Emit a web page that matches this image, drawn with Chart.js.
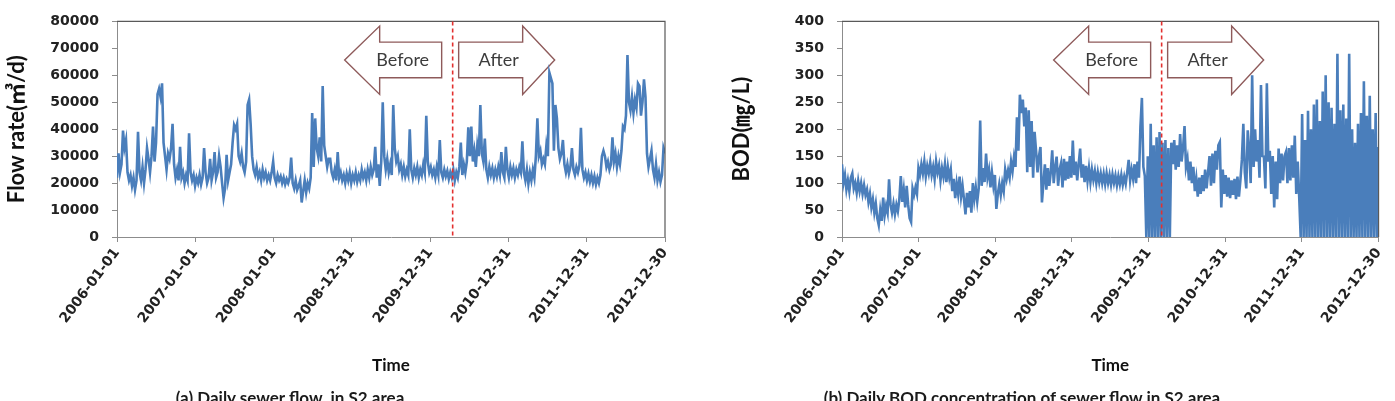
<!DOCTYPE html>
<html>
<head>
<meta charset="utf-8">
<script src="https://cdn.jsdelivr.net/npm/chart.js@4.4.0/dist/chart.umd.min.js"></script>
<style>
    html, body { margin: 0; padding: 0; background: #fff; overflow: hidden; }
    body { width: 1395px; height: 401px; position: relative; }
    canvas { position: absolute; top: 0; }
    #grafica-flujo { left: 0; }
    #grafica-bod { left: 700px; }
    .caption {
        position: absolute; top: 387px; line-height: 1;
        font: bold 17px Lato, sans-serif; color: #1a1a1a;
        white-space: pre; text-align: center;
    }
</style>
</head>
<body>
<canvas id="grafica-flujo" width="700" height="401"></canvas>
<canvas id="grafica-bod" width="695" height="401"></canvas>
<div class="caption" style="left:0;width:580px;">(a) Daily sewer flow  in S2 area</div>
<div class="caption" style="left:700px;width:644px;">(b) Daily BOD concentration of sewer flow in S2 area</div>
<script>
// eje X: dias desde 2006-01-01, una lectura por semana
const sampleStep = 7;
const tickDays = [0, 365, 730, 1095, 1460, 1825, 2190, 2555];
const tickLabels = ['2006-01-01', '2007-01-01', '2008-01-01', '2008-12-31',
    '2009-12-31', '2010-12-31', '2011-12-31', '2012-12-30'];

// dia del cambio (linea roja) en cada grafica
const cutoverDayFlow = 1565;
const cutoverDayBod = 1522;

// (a) caudal diario, m3/d
const flowRate = [
    22000, 31000, 24000, 27000, 39500, 33000, 36000, 24000, 21000, 23000,
    19000, 22000, 17500, 21000, 39000, 24000, 21000, 26000, 20000, 25000,
    33000, 29000, 24000, 30000, 41000, 28000, 35000, 53000, 55000, 52000,
    57000, 35000, 30000, 25000, 31000, 29000, 33000, 42000, 27000, 22000,
    25000, 21000, 33500, 22000, 24000, 20000, 23000, 21000, 38500, 24000,
    21000, 23000, 19000, 22000, 20000, 23000, 19500, 22000, 33000, 24000,
    20000, 22000, 29000, 21000, 24000, 31500, 22000, 24000, 30000, 26000,
    20000, 14500, 18000, 30500, 21000, 24000, 27000, 35000, 41500, 40000,
    42000, 30000, 28000, 31000, 26000, 24000, 28000, 49000, 51000, 42000,
    30000, 25000, 23000, 26000, 22000, 24000, 21000, 25000, 22000, 24000,
    21000, 23000, 21000, 24000, 28000, 22000, 20000, 23000, 21000, 22500,
    20000, 22000, 19500, 21500, 20000, 22000, 29500, 20000, 18000, 21000,
    17500, 19000, 21000, 12800, 17000, 21000, 16500, 20000, 18000, 22000,
    46000, 26000, 44000, 33000, 30000, 37000, 28000, 56000, 34000, 30000,
    26000, 29000, 29000, 24000, 22000, 25000, 21000, 31500, 22000, 24000,
    21000, 23000, 20000, 23500, 21000, 24000, 20000, 23000, 21000, 24000,
    20500, 23000, 21000, 25000, 22000, 24000, 21000, 25000, 22000, 26000,
    23000, 25000, 33500, 22000, 27000, 19000, 28000, 50000, 30000, 25000,
    29000, 24000, 27000, 23000, 49000, 33000, 28000, 30000, 25000, 27000,
    23000, 26000, 22500, 25000, 23000, 40000, 25000, 22000, 25500, 23000,
    26000, 22000, 25000, 23000, 27000, 24000, 45000, 28000, 24000, 26000,
    23000, 25000, 22000, 26000, 23000, 36000, 24000, 22000, 25000, 22500,
    24500, 21500, 24000, 22000, 25000, 21000, 24000, 22000, 26000, 35000,
    23000, 27000, 24000, 28000, 40700, 30000, 41000, 28000, 32000, 26000,
    34000, 30000, 49000, 31000, 28000, 36500, 25000, 22000, 26000, 23000,
    25500, 22000, 25000, 22500, 26000, 23000, 31500, 24000, 22000, 33500,
    25000, 22000, 26000, 23000, 25500, 22000, 25000, 23000, 26000, 24000,
    35500, 24000, 21000, 25000, 19800, 24000, 21000, 25000, 22000, 30000,
    44000, 30000, 32000, 27000, 29000, 27000, 34000, 30000, 61000, 59000,
    57000, 32000, 49000, 44000, 33000, 29000, 31000, 36000, 27000, 24000,
    27000, 23500, 26000, 33000, 25000, 23000, 26000, 24000, 26500, 40500,
    25000, 22000, 24000, 21000, 23500, 20500, 23000, 20000, 22500, 19500,
    22000, 20000, 23000, 30000, 32000, 30000, 26000, 28000, 25000, 27000,
    37000, 28000, 31000, 26000, 30000, 27000, 32000, 41000, 40000, 45000,
    67500, 50000, 47000, 52000, 46000, 51000, 48000, 57000, 56000, 45000,
    50000, 58500, 52000, 31000, 26000, 29000, 32000, 25000, 22000, 27000,
    21000, 24000, 20500, 23000, 33000, 31000
];

// (b) concentracion diaria de BOD, mg/L
const bodLevel = [
    135, 100, 115, 88, 105, 85, 110, 118, 90, 100,
    82, 104, 85, 100, 80, 96, 78, 88, 65, 80,
    55, 70, 45, 62, 35, 22, 50, 30, 73, 40,
    58, 45, 107, 60, 45, 62, 42, 60, 48, 70,
    113, 65, 88, 55, 95, 60, 35, 28, 90, 78,
    92, 80, 128, 115, 135, 118, 140, 112, 132, 118,
    138, 115, 130, 108, 140, 120, 133, 105, 128, 112,
    135, 102, 130, 110, 125, 85, 108, 72, 100, 80,
    112, 75, 95, 70, 42, 82, 55, 85, 45, 100,
    70, 92, 66, 90, 216, 95, 128, 102, 155, 110,
    125, 92, 120, 95, 115, 52, 80, 98, 78, 100,
    85, 125, 108, 124, 110, 140, 122, 148, 130, 222,
    160, 264, 230, 255, 205, 240, 120, 235, 130, 215,
    110, 195, 160, 120, 150, 167, 64, 100, 135, 88,
    128, 95, 120, 161, 100, 130, 149, 95, 125, 137,
    92, 145, 105, 140, 108, 150, 110, 179, 115, 140,
    105, 135, 164, 110, 135, 102, 132, 104, 128, 102,
    125, 106, 122, 100, 120, 102, 118, 100, 117, 98,
    118, 100, 115, 97, 116, 100, 114, 96, 113, 98,
    115, 97, 112, 99, 120, 143, 105, 125, 108, 135,
    100, 140, 110, 204, 258, 130, 113, 0, 150, 0,
    210, 0, 170, 0, 185, 0, 195, 0, 175, 0,
    180, 0, 165, 0, 175, 135, 180, 125, 170, 130,
    191, 140, 165, 206, 130, 145, 105, 140, 100, 130,
    85, 108, 75, 110, 80, 115, 85, 125, 90, 120,
    150, 95, 155, 100, 160, 125, 170, 176, 55, 125,
    80, 115, 75, 110, 72, 105, 78, 108, 70, 112,
    75, 105, 143, 210, 120, 90, 198, 161, 100, 300,
    130, 200, 140, 180, 110, 282, 150, 149, 90, 285,
    140, 160, 80, 150, 55, 140, 70, 164, 100, 155,
    105, 150, 158, 100, 165, 105, 170, 110, 188, 80,
    140, 75, 0, 228, 0, 180, 0, 234, 0, 200,
    0, 246, 0, 255, 0, 215, 0, 270, 0, 300,
    0, 250, 0, 240, 0, 210, 0, 340, 0, 235,
    0, 246, 0, 220, 0, 340, 0, 200, 0, 175,
    0, 210, 0, 230, 0, 289, 0, 225, 0, 262,
    0, 200, 0, 230, 0, 167
];

const lineColor = '#4a7ebb';
const axisColor = '#8c8c8c';
const textColor = '#222222';
const fontTitle = 'Lato, "Noto Sans CJK KR", sans-serif';
const fontTicks = '"DejaVu Sans", sans-serif';

// flechas Before / After y linea roja discontinua
const marcasPeriodo = {
    id: 'marcasPeriodo',
    beforeDatasetsDraw(chart, args, opts) {
        const ctx = chart.ctx;
        const x = chart.scales.x.getPixelForValue(opts.day);
        const t = chart.chartArea.top;
        ctx.save();
        ctx.fillStyle = '#ffffff';
        ctx.strokeStyle = '#8e5a5a';
        ctx.lineWidth = 1.4;
        ctx.lineJoin = 'miter';
        dibujarFlecha(ctx, x, t, -1);
        dibujarFlecha(ctx, x, t, 1);
        ctx.fillStyle = '#3c3c3c';
        ctx.font = '18px Lato, sans-serif';
        ctx.textAlign = 'center';
        ctx.textBaseline = 'middle';
        ctx.fillText('Before', x - 50, t + 39);
        ctx.fillText('After', x + 46, t + 39);
        ctx.restore();
    },
    afterDatasetsDraw(chart, args, opts) {
        const ctx = chart.ctx;
        const area = chart.chartArea;
        const x = chart.scales.x.getPixelForValue(opts.day);
        ctx.save();
        // borde del area de la grafica (arriba y derecha)
        ctx.strokeStyle = '#595959';
        ctx.lineWidth = 1.2;
        ctx.beginPath();
        ctx.moveTo(area.left, area.top);
        ctx.lineTo(area.right, area.top);
        ctx.lineTo(area.right, area.bottom);
        ctx.stroke();
        // linea roja
        ctx.strokeStyle = '#e3302f';
        ctx.lineWidth = 1.6;
        ctx.setLineDash([4, 3]);
        ctx.beginPath();
        ctx.moveTo(x, area.top);
        ctx.lineTo(x, area.bottom);
        ctx.stroke();
        ctx.restore();
    }
};

function dibujarFlecha(ctx, x, t, lado) {
    // lado -1: flecha izquierda (Before), 1: flecha derecha (After)
    const cola = lado < 0 ? x - 11 : x + 6;
    const base = lado < 0 ? x - 73 : x + 70;
    const punta = lado < 0 ? x - 108 : x + 102;
    ctx.beginPath();
    ctx.moveTo(punta, t + 38.7);
    ctx.lineTo(base, t + 4.7);
    ctx.lineTo(base, t + 20.7);
    ctx.lineTo(cola, t + 20.7);
    ctx.lineTo(cola, t + 56.3);
    ctx.lineTo(base, t + 56.3);
    ctx.lineTo(base, t + 73);
    ctx.closePath();
    ctx.fill();
    ctx.stroke();
}

function crearGrafica(id, valores, opciones) {
    const puntos = valores.map(function (v, i) {
        return { x: i * sampleStep, y: v };
    });
    return new Chart(document.getElementById(id).getContext('2d'), {
        type: 'line',
        data: {
            datasets: [{
                data: puntos,
                borderColor: lineColor,
                borderWidth: 2.6,
                pointRadius: 0,
                tension: 0,
                fill: false
            }]
        },
        options: {
            responsive: false,
            animation: false,
            events: [],
            layout: { padding: { left: 0, top: 17, right: opciones.padRight, bottom: 14 } },
            plugins: {
                legend: { display: false },
                tooltip: { enabled: false },
                marcasPeriodo: { day: opciones.day }
            },
            scales: {
                x: {
                    type: 'linear',
                    min: 0,
                    max: 2555,
                    afterBuildTicks: function (scale) {
                        scale.ticks = tickDays.map(function (d) { return { value: d }; });
                    },
                    afterFit: function (scale) { scale.height = 150; },
                    ticks: {
                        autoSkip: false,
                        minRotation: 53,
                        maxRotation: 53,
                        padding: 3,
                        color: textColor,
                        font: { family: fontTicks, weight: 'bold', size: 14 },
                        callback: function (value, index) { return tickLabels[index]; }
                    },
                    grid: { drawOnChartArea: false, tickLength: 5, color: axisColor },
                    border: { color: axisColor, width: 1 },
                    title: {
                        display: true,
                        text: 'Time',
                        color: '#111',
                        font: { family: fontTitle, weight: 'bold', size: 17 },
                        padding: { top: 0, bottom: 11 }
                    }
                },
                y: {
                    min: 0,
                    max: opciones.max,
                    afterFit: function (scale) { scale.width = opciones.yWidth; },
                    ticks: {
                        stepSize: opciones.step,
                        padding: 13,
                        color: textColor,
                        font: { family: fontTicks, weight: 'bold', size: 14 },
                        callback: function (value) { return String(value); }
                    },
                    grid: { drawOnChartArea: false, tickLength: 5, color: axisColor },
                    border: { color: axisColor, width: 1 },
                    title: {
                        display: true,
                        text: opciones.titulo,
                        color: '#111',
                        font: { family: fontTitle, weight: 'bold', size: 22 },
                        padding: { top: opciones.titlePad, bottom: 0 }
                    }
                }
            }
        },
        plugins: [marcasPeriodo]
    });
}

crearGrafica('grafica-flujo', flowRate, {
    day: cutoverDayFlow, max: 80000, step: 10000, yWidth: 117, padRight: 35,
    titulo: 'Flow rate(㎥/d)', titlePad: 4
});
crearGrafica('grafica-bod', bodLevel, {
    day: cutoverDayBod, max: 400, step: 50, yWidth: 142, padRight: 7,
    titulo: 'BOD(㎎/L)', titlePad: 29
});
</script>
</body>
</html>
